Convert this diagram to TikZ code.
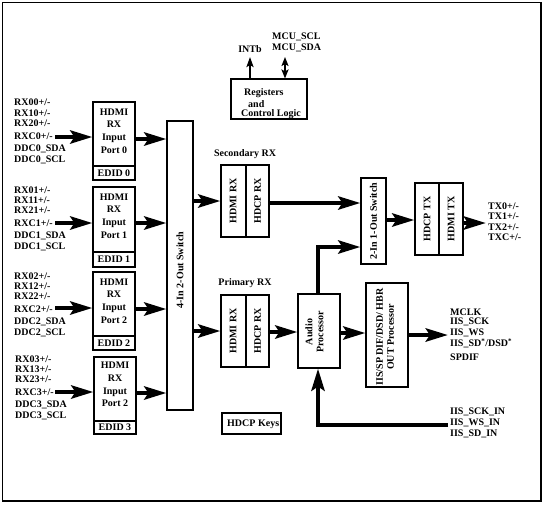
\documentclass[tikz,border=0pt]{standalone}
\usepackage{fontspec}
\setmainfont{Liberation Serif}
\usetikzlibrary{arrows.meta}
\newcommand\pmm{+/-}
\newcommand\sdlab{IIS\_SD\textsuperscript{*}/DSD\textsuperscript{*}}
\begin{document}
\begin{tikzpicture}[x=1pt,y=-1pt,
  every node/.style={font=\bfseries\fontsize{10}{11}\selectfont, inner sep=0pt},
  blk/.style={draw, line width=1.1pt},
  big/.style={line width=4.5pt, -{Stealth[length=22pt,width=13pt,inset=4pt]}},
  sml/.style={line width=2pt, -{Stealth[length=10pt,width=7pt,inset=2pt]}},
  dbl/.style={line width=2pt, {Stealth[length=9pt,width=7pt,inset=2pt]}-{Stealth[length=9pt,width=7pt,inset=2pt]}},
  lbl/.style={anchor=west},
  vtxt/.style={rotate=90, align=center},
]
\useasboundingbox (0,0) rectangle (545,504);
\draw[line width=1.2pt] (2.5,2.5) rectangle (541,501);

% ---------- input ports ----------
\foreach \p/\q/\x/\cy/\h/\ey/\eh/\ty in {0/0/114/134/64/173/14/131, 1/1/114/219.5/65/259.5/15/216, 2/2/114/304/64/343/14/301, 3/2/115/389/64/427.5/13/384.5} {
  \node[blk, minimum width=42pt, minimum height=\h pt] (p\p) at (\x,\cy) {};
  \node[blk, minimum width=42pt, minimum height=\eh pt] (e\p) at (\x,\ey) {EDID \p};
  \node[align=center, font=\bfseries\fontsize{10}{12.7}\selectfont] (pt\p) at (\x,\ty) {HDMI\\RX\\Input\\Port \q};
}
\foreach \p/\b/\x in {0/102.7/14, 1/190/14, 2/276/14, 3/359/15} {
  \foreach \o/\t [count=\i] in {0/RX0\p\pmm, 10.3/RX1\p\pmm, 20.6/RX2\p\pmm, 33.2/RXC\p\pmm, 46/DDC\p\_SDA, 56.8/DDC\p\_SCL}
    \node[lbl] (L\p-\i) at (\x,\b+\o) {\t};
}

% 4-in 2-out switch
\node[blk, minimum width=26pt, minimum height=289pt] (sw) at (180,265.5) {};
\node[vtxt] (swt) at (180,270) {4-In 2-Out Switch};

% input arrows
\foreach \p/\y in {0/137, 1/223, 2/308, 3/392} {
  \coordinate (in\p) at (55,\y);
  \draw[big] (in\p) -- (in\p -| p\p.west);
}
\foreach \p/\y in {0/139, 1/223, 2/309, 3/393} {
  \coordinate (o\p) at (135,\y);
  \draw[big] (o\p -| p\p.east) -- (o\p -| sw.west);
}

% registers
\node[blk, minimum width=76pt, minimum height=40pt] (reg) at (269,99) {};
\node[lbl] (r1) at (244,93.5) {Registers};
\node[lbl] (r2) at (248,104) {and};
\node[lbl] (r3) at (241,114.5) {Control Logic};
\coordinate (intb) at (250,57);
\coordinate (mcu) at (285,57);
\draw[sml] (reg.north -| intb) -- (intb);
\draw[dbl] (reg.north -| mcu) -- (mcu);
\node (intbt) at (250,49) {INTb};
\node[lbl] (mcu1) at (272,37) {MCU\_SCL};
\node[lbl] (mcu2) at (272,47.5) {MCU\_SDA};

% secondary RX
\node (secl) at (245,154) {Secondary RX};
\node[blk, minimum width=25pt, minimum height=72pt] (s1) at (233.5,201) {};
\node[blk, minimum width=23pt, minimum height=72pt] (s2) at (257.5,201) {};
\node[vtxt] (s1t) at (233,201) {HDMI RX};
\node[vtxt] (s2t) at (257.5,201) {HDCP RX};

% primary RX
\node (priml) at (245,283.5) {Primary RX};
\node[blk, minimum width=25pt, minimum height=72pt] (q1) at (233.5,331) {};
\node[blk, minimum width=23pt, minimum height=72pt] (q2) at (257.5,331) {};
\node[vtxt] (q1t) at (233,331) {HDMI RX};
\node[vtxt] (q2t) at (257.5,331) {HDCP RX};

% switch -> RX
\coordinate (a1) at (193,201);
\coordinate (a2) at (193,331);
\draw[big] (a1 -| sw.east) -- (a1 -| s1.west);
\draw[big] (a2 -| sw.east) -- (a2 -| q1.west);

% 2-in 1-out switch
\node[blk, minimum width=25pt, minimum height=86pt] (sw2) at (373.5,221) {};
\node[vtxt] (sw2t) at (373.5,221) {2-In 1-Out Switch};
\coordinate (a3) at (269,203);
\draw[big] (a3 -| s2.east) -- (a3 -| sw2.west);

% TX
\node[blk, minimum width=24pt, minimum height=72pt] (t1) at (427,219) {};
\node[blk, minimum width=24pt, minimum height=72pt] (t2) at (451,219) {};
\node[vtxt] (t1t) at (427,219) {HDCP TX};
\node[vtxt] (t2t) at (451,219) {HDMI TX};
\coordinate (a4) at (386,220);
\draw[big] (a4 -| sw2.east) -- (a4 -| t1.west);
\coordinate (txo) at (486,223);
\draw[big] (txo -| t2.east) -- (txo);
\foreach \t/\y [count=\i] in {TX0\pmm/206, TX1\pmm/216.5, TX2\pmm/227, TXC\pmm/237.5}
  \node[lbl] (tx\i) at (488,\y) {\t};

% audio processor
\node[blk, minimum width=42pt, minimum height=74pt] (au) at (319,331) {};
\node[vtxt] (aut) at (314.5,332) {Audio\\Processor};
\coordinate (a5) at (269,332);
\draw[big] (a5 -| q2.east) -- (a5 -| au.west);
\coordinate (a6) at (318,247);
\draw[big] (au.north -| a6) -- (a6) -- (a6 -| sw2.west);

% IIS out processor
\node[blk, minimum width=42pt, minimum height=104pt] (iis) at (387,335) {};
\node[vtxt] (iist) at (385,337) {IIS/SP DIF/DSD/ HBR\\OUT Processor};
\coordinate (a7) at (340,333);
\draw[big] (a7 -| au.east) -- (a7 -| iis.west);
\coordinate (a8) at (448,335);
\draw[big] (a8 -| iis.east) -- (a8);
\foreach \t/\y [count=\i] in {MCLK/312, IIS\_SCK/322, IIS\_WS/332.5, \sdlab/343.5, SPDIF/357}
  \node[lbl] (ao\i) at (450,\y) {\t};

% IIS in
\coordinate (a9) at (448,425);
\draw[big] (a9) -- (a9 -| a6) -- (au.south -| a6);
\foreach \t/\y [count=\i] in {IIS\_SCK\_IN/412, IIS\_WS\_IN/422.5, IIS\_SD\_IN/434}
  \node[lbl] (ai\i) at (450,\y) {\t};

% HDCP keys
\node[blk, minimum width=59pt, minimum height=21pt] (keys) at (251.5,423.5) {};
\node[lbl] (keyst) at (227,424) {HDCP Keys};
\end{tikzpicture}
\end{document}
